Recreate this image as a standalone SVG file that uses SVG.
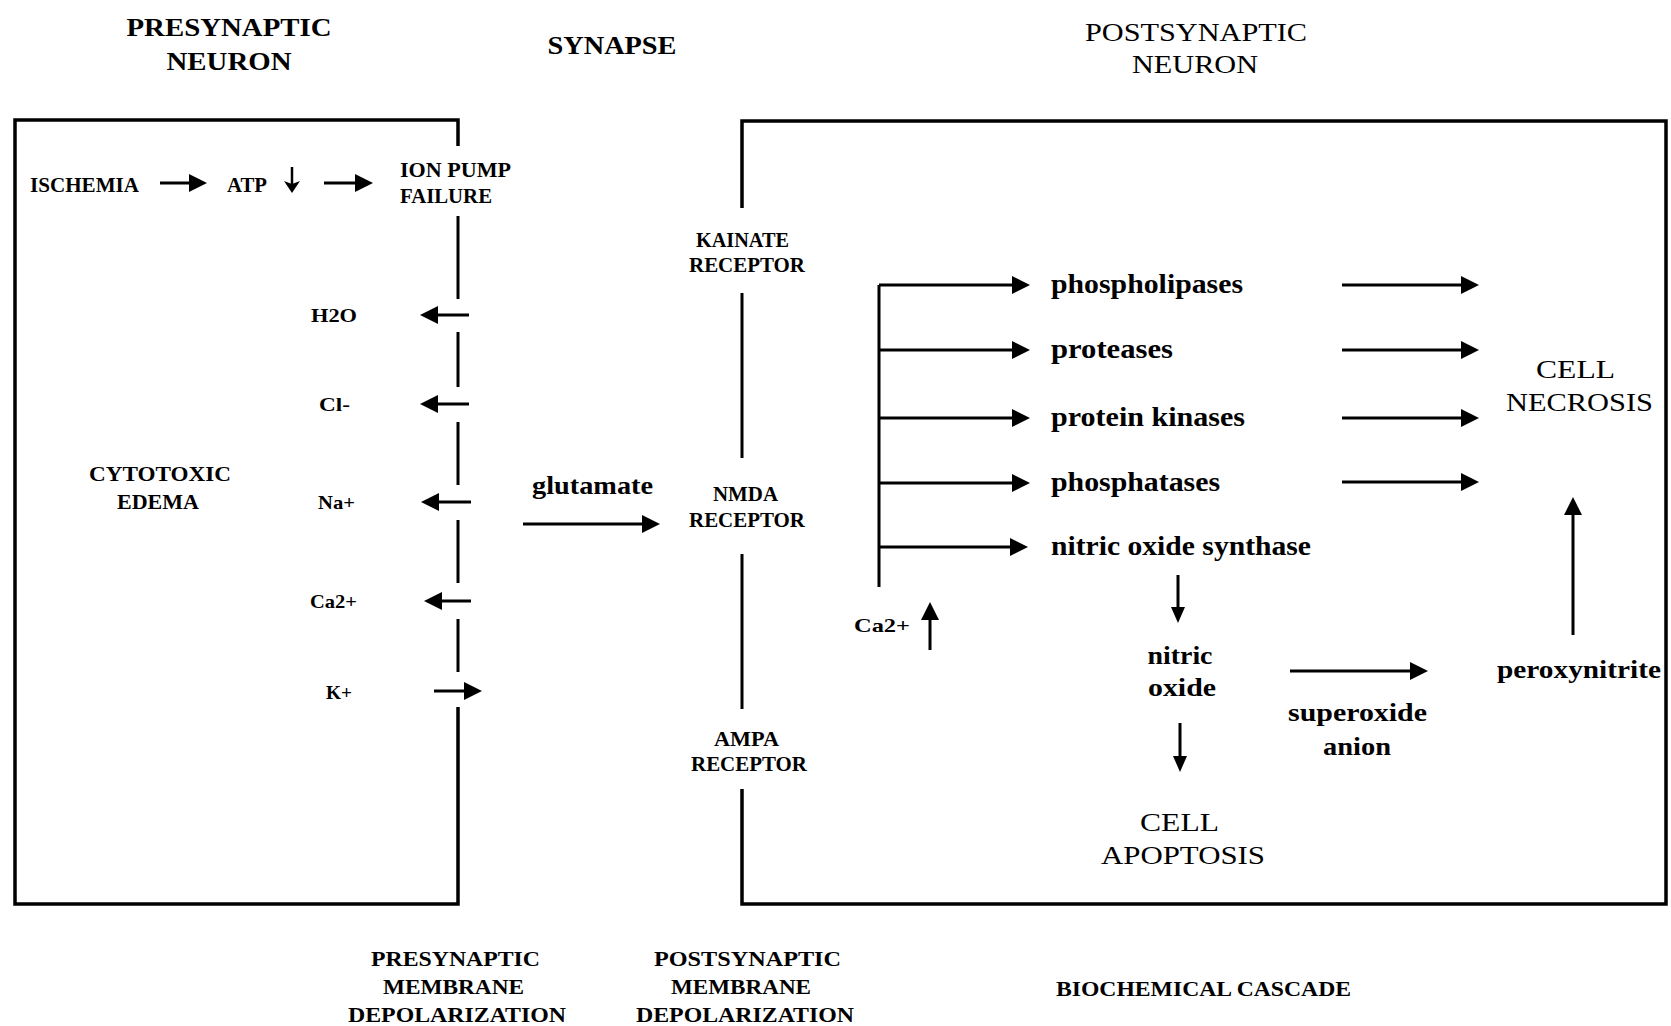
<svg xmlns="http://www.w3.org/2000/svg" width="1671" height="1026" viewBox="0 0 1671 1026">
<style>
text { font-family: "Liberation Serif", "Times New Roman", serif; fill: #000; }
.b { font-weight: bold; }
.n { font-weight: normal; }
.m { text-anchor: middle; }
.title { font-size: 25px; }
.lab { font-size: 20px; }
.ion { font-size: 19px; }
.low { font-size: 27px; }
.mid { font-size: 25px; }
.bot { font-size: 22px; }
.frame { fill: none; stroke: #000; stroke-width: 3.5; }
.mem { fill: none; stroke: #000; stroke-width: 3; }
.c { fill: none; stroke: #000; stroke-width: 3; }
.cs { fill: none; stroke: #000; stroke-width: 2.5; }
</style>
<defs>
<marker id="arr" markerUnits="userSpaceOnUse" markerWidth="18" markerHeight="18" refX="10" refY="9" orient="auto" viewBox="0 0 18 18">
<path d="M0,0 L18,9 L0,18 Z" fill="#000"/>
</marker>
<marker id="arrm" markerUnits="userSpaceOnUse" markerWidth="16" markerHeight="14" refX="9" refY="7" orient="auto" viewBox="0 0 16 14">
<path d="M0,0 L16,7 L0,14 Z" fill="#000"/>
</marker>
<marker id="arrs" markerUnits="userSpaceOnUse" markerWidth="12" markerHeight="16" refX="6" refY="8" orient="auto" viewBox="0 0 12 16">
<path d="M0,0 L12,8 L0,16 L3,8 Z" fill="#000"/>
</marker>
</defs>
<rect width="1671" height="1026" fill="#fff"/>

<!-- frames / membranes -->
<g id="presynaptic-neuron">
<path class="frame" d="M458,146 V120 H15 V904 H458 V707"/>
<path class="mem" d="M458,216 V299 M458,332 V387 M458,422 V485 M458,520 V583 M458,619 V672"/>
</g>
<g id="postsynaptic-neuron">
<path class="frame" d="M742,208 V121 H1666 V904 H742 V789"/>
<path class="mem" d="M742,293 V458 M742,554 V709"/>
</g>

<!-- headings -->
<g id="title-pre"><text class="b m title" x="229" y="36" textLength="205" lengthAdjust="spacingAndGlyphs">PRESYNAPTIC</text><text class="b m title" x="229" y="70" textLength="125" lengthAdjust="spacingAndGlyphs">NEURON</text></g>
<g id="title-syn"><text class="b m title" x="612" y="54" textLength="129" lengthAdjust="spacingAndGlyphs">SYNAPSE</text></g>
<g id="title-post"><text class="n m title" x="1196" y="41" textLength="222" lengthAdjust="spacingAndGlyphs">POSTSYNAPTIC</text><text class="n m title" x="1195" y="73" textLength="126" lengthAdjust="spacingAndGlyphs">NEURON</text></g>

<!-- presynaptic nodes -->
<g id="ischemia"><text class="b lab" x="30" y="192" textLength="109" lengthAdjust="spacingAndGlyphs">ISCHEMIA</text></g>
<g id="atp"><text class="b lab" x="227" y="192" textLength="40" lengthAdjust="spacingAndGlyphs">ATP</text></g>
<g id="ion-pump"><text class="b lab" x="400" y="177" textLength="111" lengthAdjust="spacingAndGlyphs">ION PUMP</text><text class="b lab" x="400" y="203" textLength="92" lengthAdjust="spacingAndGlyphs">FAILURE</text></g>
<g id="h2o"><text class="b m ion" x="334" y="322" textLength="46" lengthAdjust="spacingAndGlyphs">H2O</text></g>
<g id="cl"><text class="b m ion" x="334.5" y="411" textLength="31" lengthAdjust="spacingAndGlyphs">Cl-</text></g>
<g id="na"><text class="b m ion" x="336.5" y="509" textLength="37" lengthAdjust="spacingAndGlyphs">Na+</text></g>
<g id="ca-pre"><text class="b m ion" x="333.5" y="608" textLength="47" lengthAdjust="spacingAndGlyphs">Ca2+</text></g>
<g id="k"><text class="b m ion" x="339" y="699" textLength="26" lengthAdjust="spacingAndGlyphs">K+</text></g>
<g id="edema"><text class="b m" font-size="22" x="160" y="481" textLength="142" lengthAdjust="spacingAndGlyphs">CYTOTOXIC</text><text class="b m" font-size="22" x="158" y="509" textLength="82" lengthAdjust="spacingAndGlyphs">EDEMA</text></g>

<!-- synapse -->
<g id="glutamate"><text class="b m mid" x="592.5" y="494" textLength="121" lengthAdjust="spacingAndGlyphs">glutamate</text></g>
<g id="kainate"><text class="b m lab" x="742.5" y="247" textLength="93" lengthAdjust="spacingAndGlyphs">KAINATE</text><text class="b m lab" x="747" y="272" textLength="116" lengthAdjust="spacingAndGlyphs">RECEPTOR</text></g>
<g id="nmda"><text class="b m lab" x="745.5" y="501" textLength="65" lengthAdjust="spacingAndGlyphs">NMDA</text><text class="b m lab" x="747" y="527" textLength="116" lengthAdjust="spacingAndGlyphs">RECEPTOR</text></g>
<g id="ampa"><text class="b m lab" x="746.5" y="746" textLength="65" lengthAdjust="spacingAndGlyphs">AMPA</text><text class="b m lab" x="749" y="771" textLength="116" lengthAdjust="spacingAndGlyphs">RECEPTOR</text></g>

<!-- postsynaptic nodes -->
<g id="phospholipases"><text class="b low" x="1051" y="293" textLength="192" lengthAdjust="spacingAndGlyphs">phospholipases</text></g>
<g id="proteases"><text class="b low" x="1051" y="358" textLength="122" lengthAdjust="spacingAndGlyphs">proteases</text></g>
<g id="protein-kinases"><text class="b low" x="1051" y="426" textLength="194" lengthAdjust="spacingAndGlyphs">protein kinases</text></g>
<g id="phosphatases"><text class="b low" x="1051" y="491" textLength="169" lengthAdjust="spacingAndGlyphs">phosphatases</text></g>
<g id="nos"><text class="b low" x="1051" y="555" textLength="260" lengthAdjust="spacingAndGlyphs">nitric oxide synthase</text></g>
<g id="ca-post"><text class="b ion" x="854" y="632" textLength="56" lengthAdjust="spacingAndGlyphs">Ca2+</text></g>
<g id="nitric-oxide"><text class="b m mid" x="1180" y="664" textLength="65" lengthAdjust="spacingAndGlyphs">nitric</text><text class="b m mid" x="1182" y="696" textLength="68" lengthAdjust="spacingAndGlyphs">oxide</text></g>
<g id="superoxide"><text class="b m mid" x="1357.5" y="721" textLength="139" lengthAdjust="spacingAndGlyphs">superoxide</text><text class="b m mid" x="1357" y="755" textLength="68" lengthAdjust="spacingAndGlyphs">anion</text></g>
<g id="peroxynitrite"><text class="b m mid" x="1579" y="678" textLength="164" lengthAdjust="spacingAndGlyphs">peroxynitrite</text></g>
<g id="necrosis"><text class="n m mid" x="1575.5" y="378" textLength="79" lengthAdjust="spacingAndGlyphs">CELL</text><text class="n m mid" x="1579.5" y="411" textLength="147" lengthAdjust="spacingAndGlyphs">NECROSIS</text></g>
<g id="apoptosis"><text class="n m mid" x="1179.5" y="831" textLength="79" lengthAdjust="spacingAndGlyphs">CELL</text><text class="n m mid" x="1183" y="864" textLength="164" lengthAdjust="spacingAndGlyphs">APOPTOSIS</text></g>

<!-- bottom captions -->
<g id="cap-pre"><text class="b m bot" x="455.5" y="966" textLength="169" lengthAdjust="spacingAndGlyphs">PRESYNAPTIC</text><text class="b m bot" x="453.5" y="994" textLength="141" lengthAdjust="spacingAndGlyphs">MEMBRANE</text><text class="b m bot" x="457" y="1022" textLength="218" lengthAdjust="spacingAndGlyphs">DEPOLARIZATION</text></g>
<g id="cap-post"><text class="b m bot" x="747.5" y="966" textLength="187" lengthAdjust="spacingAndGlyphs">POSTSYNAPTIC</text><text class="b m bot" x="741" y="994" textLength="140" lengthAdjust="spacingAndGlyphs">MEMBRANE</text><text class="b m bot" x="745" y="1022" textLength="218" lengthAdjust="spacingAndGlyphs">DEPOLARIZATION</text></g>
<g id="cap-bio"><text class="b m bot" x="1203.5" y="996" textLength="295" lengthAdjust="spacingAndGlyphs">BIOCHEMICAL CASCADE</text></g>

<!-- connectors -->
<g id="connectors">
<path class="c" d="M160,183 H199" marker-end="url(#arr)"/>
<path class="cs" d="M292,167 V187" marker-end="url(#arrs)"/>
<path class="c" d="M324,183 H365" marker-end="url(#arr)"/>
<path class="c" d="M469,315 H428" marker-end="url(#arr)"/>
<path class="c" d="M469,404 H428" marker-end="url(#arr)"/>
<path class="c" d="M471,502 H429" marker-end="url(#arr)"/>
<path class="c" d="M471,601 H432" marker-end="url(#arr)"/>
<path class="c" d="M434,691 H474" marker-end="url(#arr)"/>
<path class="c" d="M523,524 H652" marker-end="url(#arr)"/>
<path class="c" d="M879,285 V587"/>
<path class="c" d="M879,285 H1022" marker-end="url(#arr)"/>
<path class="c" d="M879,350 H1022" marker-end="url(#arr)"/>
<path class="c" d="M879,418 H1022" marker-end="url(#arr)"/>
<path class="c" d="M879,483 H1022" marker-end="url(#arr)"/>
<path class="c" d="M879,547 H1020" marker-end="url(#arr)"/>
<path class="c" d="M1342,285 H1471" marker-end="url(#arr)"/>
<path class="c" d="M1342,350 H1471" marker-end="url(#arr)"/>
<path class="c" d="M1342,418 H1471" marker-end="url(#arr)"/>
<path class="c" d="M1342,482 H1471" marker-end="url(#arr)"/>
<path class="c" d="M930,650 V610" marker-end="url(#arr)"/>
<path class="c" d="M1178,575 V616" marker-end="url(#arrm)"/>
<path class="c" d="M1180,723 V765" marker-end="url(#arrm)"/>
<path class="c" d="M1290,671 H1420" marker-end="url(#arr)"/>
<path class="c" d="M1573,635 V505" marker-end="url(#arr)"/>
</g>
</svg>
